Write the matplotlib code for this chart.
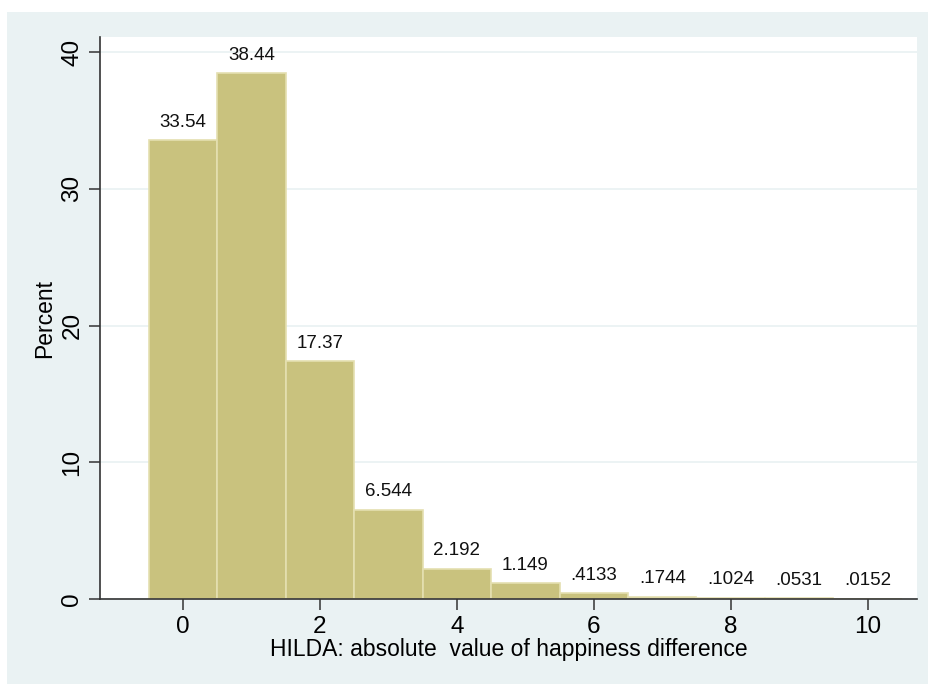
import matplotlib.pyplot as plt
import matplotlib.patches as patches

plt.rcParams['font.family'] = ['Liberation Sans', 'DejaVu Sans']

# happiness difference categories and percent
diff = [0, 1, 2, 3, 4, 5, 6, 7, 8, 9, 10]
percent = [33.54, 38.44, 17.37, 6.544, 2.192, 1.149, 0.4133, 0.1744, 0.1024, 0.0531, 0.0152]

bg = '#EAF2F3'
fig = plt.figure(figsize=(9.29, 6.84), dpi=100)
fig.patches.append(patches.Rectangle((7/929, 0), 1 - 7/929, (684-12)/684,
                                     transform=fig.transFigure, facecolor=bg,
                                     edgecolor='none', zorder=-5))
ax = fig.add_axes([100/929, 1 - 599/684, 817/929, (599-37)/684])
ax.set_facecolor('white')

ax.bar(diff, percent, width=1.0, color='#C9C27E', edgecolor='#E4DFB0', linewidth=1.2, zorder=2)

for x, v in zip(diff, percent):
    lab = f"{v:.4g}"
    if lab.startswith('0.'):
        lab = lab[1:]
    ax.text(x, v + 0.7, lab, ha='center', va='bottom', fontsize=13.5, color='#111111')

ax.set_xlim(-1.21, 10.72)
ax.set_ylim(0, 41.1)
ax.set_xticks([0, 2, 4, 6, 8, 10])
ax.set_yticks([0, 10, 20, 30, 40])
ax.yaxis.grid(True, color=bg, linewidth=1.3, zorder=0)
ax.set_axisbelow(True)

for s in ['top', 'right']:
    ax.spines[s].set_visible(False)
for s in ['left', 'bottom']:
    ax.spines[s].set_color('#333333')
    ax.spines[s].set_linewidth(1.2)

ax.tick_params(axis='both', length=8, width=1.1, color='#333333', labelsize=17.5, pad=4)
plt.setp(ax.get_yticklabels(), rotation=90, va='center')
ax.set_xlabel("HILDA: absolute  value of happiness difference", fontsize=16.5, labelpad=0)
ax.set_ylabel("Percent", fontsize=16.5, labelpad=4)

plt.savefig('out.png', dpi=100)
